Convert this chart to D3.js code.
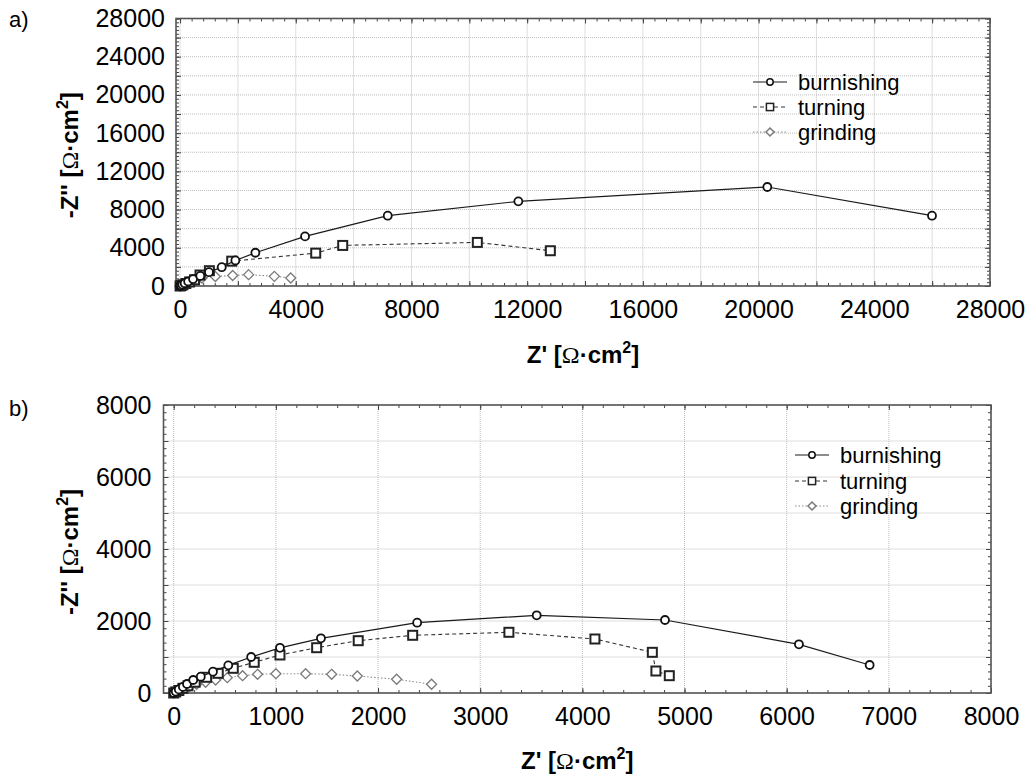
<!DOCTYPE html>
<html>
<head>
<meta charset="utf-8">
<script src="https://cdn.jsdelivr.net/npm/d3@7"></script>
<style>
  html, body { margin: 0; padding: 0; background: #fff; }
  svg { display: block; font-family: "Liberation Sans", Arial, sans-serif; }
</style>
</head>
<body>
<svg id="chart" width="1029" height="776"></svg>
<script>
// ---------- data (Z' , -Z'') ----------
const seriesNames = ["burnishing", "turning", "grinding"];

const aBurnishing = [[0,0],[30,60],[80,150],[160,290],[280,470],[450,720],[700,1050],[1000,1450],[1441,1972],[1912,2674],[2604,3481],[4321,5191],[7180,7361],[11695,8861],[20302,10362],[25995,7361]];
const aTurning = [[0,0],[40,50],[100,130],[200,260],[330,420],[500,650],[691,1150],[1014,1600],[1786,2600],[4690,3440],[5623,4247],[10277,4562],[12801,3691]];
const aGrinding = [[0,0],[40,40],[100,100],[180,180],[300,300],[450,480],[600,650],[760,840],[1220,996],[1820,1100],[2370,1190],[3260,1010],[3826,840]];

const bBurnishing = [[0,0],[20,40],[50,100],[90,170],[130,250],[191,361],[265,453],[384,592],[534,768],[758,1000],[1040,1255],[1441,1519],[2383,1953],[3553,2158],[4809,2028],[6120,1352],[6812,778]];
const bTurning = [[0,0],[20,30],[50,70],[90,130],[140,200],[210,300],[322,436],[436,547],[583,686],[788,853],[1040,1056],[1399,1258],[1806,1453],[2339,1603],[3281,1686],[4123,1500],[4685,1130],[4720,611],[4851,481]];
const bGrinding = [[0,0],[20,20],[50,50],[90,90],[140,140],[224,242],[312,297],[410,361],[524,425],[674,481],[821,519],[1000,536],[1291,536],[1546,519],[1797,472],[2182,381],[2524,242]];

const aXTickLabels = [0,4000,8000,12000,16000,20000,24000,28000];
const aYTickLabels = [0,4000,8000,12000,16000,20000,24000,28000];
const bXTickLabels = [0,1000,2000,3000,4000,5000,6000,7000,8000];
const bYTickLabels = [0,2000,4000,6000,8000];

// ---------- drawing ----------
const svg = d3.select("#chart");

const styles = {
  burnishing: {line: "#1a1a1a", dash: null, width: 1.2, marker: "circle", mstroke: "#111", mwidth: 1.8},
  turning:    {line: "#333", dash: "4,3", width: 1.1, marker: "square", mstroke: "#222", mwidth: 2},
  grinding:   {line: "#8a8a8a", dash: "1.5,2", width: 1.1, marker: "diamond", mstroke: "#7a7a7a", mwidth: 1.3}
};

function drawMarker(g, type, x, y, s, st) {
  if (type === "circle") {
    g.append("circle").attr("cx", x).attr("cy", y).attr("r", 4 * s)
      .attr("fill", "#fff").attr("stroke", st.mstroke).attr("stroke-width", st.mwidth);
  } else if (type === "square") {
    const h = 4.5 * s;
    g.append("rect").attr("x", x - h).attr("y", y - h).attr("width", 2 * h).attr("height", 2 * h)
      .attr("fill", "#fff").attr("stroke", st.mstroke).attr("stroke-width", st.mwidth);
  } else {
    const h = 5 * s;
    g.append("path").attr("d", `M${x},${y - h}L${x + h},${y}L${x},${y + h}L${x - h},${y}Z`)
      .attr("fill", "#fff").attr("stroke", st.mstroke).attr("stroke-width", st.mwidth);
  }
}

function drawPanel(cfg) {
  const x = d3.scaleLinear().domain(cfg.xDomain).range([cfg.left, cfg.right]);
  const y = d3.scaleLinear().domain(cfg.yDomain).range([cfg.bottom, cfg.top]);
  const g = svg.append("g");

  // grid
  const xGrid = d3.range(0, cfg.xDomain[1] + 1, cfg.xGridStep);
  const yGrid = d3.range(0, cfg.yDomain[1] + 1, cfg.yGridStep);
  g.append("g").selectAll("line").data(xGrid).join("line")
    .attr("x1", d => x(d)).attr("x2", d => x(d)).attr("y1", cfg.top).attr("y2", cfg.bottom)
    .attr("stroke", "#bdbdbd").attr("stroke-dasharray", "1,1").attr("stroke-width", 1);
  g.append("g").selectAll("line").data(yGrid).join("line")
    .attr("y1", d => y(d)).attr("y2", d => y(d)).attr("x1", cfg.left).attr("x2", cfg.right)
    .attr("stroke", "#bdbdbd").attr("stroke-dasharray", "1,1").attr("stroke-width", 1);

  // axes (ticks inward on all four sides)
  const xMinor = d3.range(0, cfg.xDomain[1] + 1, cfg.xGridStep / 5);
  const yMinor = d3.range(0, cfg.yDomain[1] + 1, cfg.yGridStep / 5);
  const tickStyle = sel => { sel.select(".domain").remove(); sel.selectAll("line").attr("stroke", "#444"); sel.selectAll("text").remove(); };
  g.append("g").attr("transform", `translate(0,${cfg.bottom})`)
    .call(d3.axisTop(x).tickValues(xMinor).tickSize(3)).call(tickStyle);
  g.append("g").attr("transform", `translate(0,${cfg.bottom})`)
    .call(d3.axisTop(x).tickValues(xGrid).tickSize(5)).call(tickStyle);
  g.append("g").attr("transform", `translate(0,${cfg.top})`)
    .call(d3.axisBottom(x).tickValues(xMinor).tickSize(3)).call(tickStyle);
  g.append("g").attr("transform", `translate(0,${cfg.top})`)
    .call(d3.axisBottom(x).tickValues(xGrid).tickSize(5)).call(tickStyle);
  g.append("g").attr("transform", `translate(${cfg.left},0)`)
    .call(d3.axisRight(y).tickValues(yMinor).tickSize(3)).call(tickStyle);
  g.append("g").attr("transform", `translate(${cfg.left},0)`)
    .call(d3.axisRight(y).tickValues(yGrid).tickSize(5)).call(tickStyle);
  g.append("g").attr("transform", `translate(${cfg.right},0)`)
    .call(d3.axisLeft(y).tickValues(yMinor).tickSize(3)).call(tickStyle);
  g.append("g").attr("transform", `translate(${cfg.right},0)`)
    .call(d3.axisLeft(y).tickValues(yGrid).tickSize(5)).call(tickStyle);

  // tick labels
  const xl = g.append("g").attr("transform", `translate(0,${cfg.bottom})`)
    .call(d3.axisBottom(x).tickValues(cfg.xTicks).tickSize(0).tickPadding(cfg.xLabelPad).tickFormat(d3.format("d")));
  xl.select(".domain").remove();
  xl.selectAll("text").attr("font-size", 25).attr("fill", "#000").attr("font-family", "Liberation Sans, Arial, sans-serif");
  const yl = g.append("g").attr("transform", `translate(${cfg.left},0)`)
    .call(d3.axisLeft(y).tickValues(cfg.yTicks).tickSize(0).tickPadding(cfg.yLabelPad).tickFormat(d3.format("d")));
  yl.select(".domain").remove();
  yl.selectAll("text").attr("font-size", 25).attr("fill", "#000").attr("font-family", "Liberation Sans, Arial, sans-serif");

  // frame
  g.append("rect").attr("x", cfg.left).attr("y", cfg.top)
    .attr("width", cfg.right - cfg.left).attr("height", cfg.bottom - cfg.top)
    .attr("fill", "none").attr("stroke", "#555").attr("stroke-width", 1.6);

  // series (draw grinding first, burnishing last)
  const line = d3.line().x(d => x(d[0])).y(d => y(d[1]));
  const order = [2, 1, 0];
  order.forEach(i => {
    const name = seriesNames[i];
    const st = styles[name];
    const data = cfg.series[i];
    g.append("path").datum(data).attr("d", line).attr("fill", "none")
      .attr("stroke", st.line).attr("stroke-width", st.width)
      .attr("stroke-dasharray", st.dash);
    const mg = g.append("g");
    data.forEach(d => drawMarker(mg, st.marker, x(d[0]), y(d[1]), 1, st));
  });

  // legend
  const lg = g.append("g");
  seriesNames.forEach((name, i) => {
    const st = styles[name];
    const ly = cfg.legendY[i];
    lg.append("line").attr("x1", cfg.legendX).attr("x2", cfg.legendX + 34).attr("y1", ly).attr("y2", ly)
      .attr("stroke", st.line).attr("stroke-width", 1.1).attr("stroke-dasharray", st.dash);
    drawMarker(lg, st.marker, cfg.legendX + 17, ly, 0.8, {mstroke: st.mstroke, mwidth: 1.5});
    lg.append("text").attr("x", cfg.legendX + 45).attr("y", ly + 8).attr("font-size", 22)
      .attr("fill", "#000").text(name);
  });

  // panel label
  g.append("text").attr("x", 9).attr("y", cfg.labelY).attr("font-size", 22).attr("fill", "#000").text(cfg.label);

  // x-axis title
  const xt = g.append("text").attr("x", (cfg.left + cfg.right) / 2).attr("y", cfg.xTitleY)
    .attr("text-anchor", "middle").attr("font-size", 24).attr("font-weight", "bold").attr("fill", "#000");
  xt.append("tspan").text("Z' [");
  xt.append("tspan").attr("font-family", "Liberation Serif, serif").attr("font-weight", "normal").text("Ω");
  xt.append("tspan").text("·cm");
  xt.append("tspan").attr("dy", -10).attr("font-size", 16).text("2");
  xt.append("tspan").attr("dy", 10).text("]");

  // y-axis title
  const cy = (cfg.top + cfg.bottom) / 2 + 3;
  const yt = g.append("text").attr("transform", `translate(${cfg.yTitleX},${cy}) rotate(-90)`)
    .attr("text-anchor", "middle").attr("font-size", 24).attr("font-weight", "bold").attr("fill", "#000");
  yt.append("tspan").text("-Z'' [");
  yt.append("tspan").attr("font-family", "Liberation Serif, serif").attr("font-weight", "normal").text("Ω");
  yt.append("tspan").text("·cm");
  yt.append("tspan").attr("dy", -10).attr("font-size", 16).text("2");
  yt.append("tspan").attr("dy", 10).text("]");
}

drawPanel({
  label: "a)", labelY: 27,
  left: 176, right: 990, top: 18.5, bottom: 286,
  xDomain: [-140, 28000], yDomain: [0, 28000],
  xGridStep: 2000, yGridStep: 2000,
  xTicks: aXTickLabels, yTicks: aYTickLabels,
  xLabelPad: 14, yLabelPad: 11,
  series: [aBurnishing, aTurning, aGrinding],
  legendX: 753, legendY: [82, 107, 132],
  xTitleY: 363, yTitleX: 78
});

drawPanel({
  label: "b)", labelY: 416,
  left: 163.5, right: 991, top: 405, bottom: 693,
  xDomain: [-100, 8000], yDomain: [0, 8000],
  xGridStep: 1000, yGridStep: 1000,
  xTicks: bXTickLabels, yTicks: bYTickLabels,
  xLabelPad: 14, yLabelPad: 12,
  series: [bBurnishing, bTurning, bGrinding],
  legendX: 795, legendY: [455, 481, 506],
  xTitleY: 769, yTitleX: 78
});
</script>
</body>
</html>
